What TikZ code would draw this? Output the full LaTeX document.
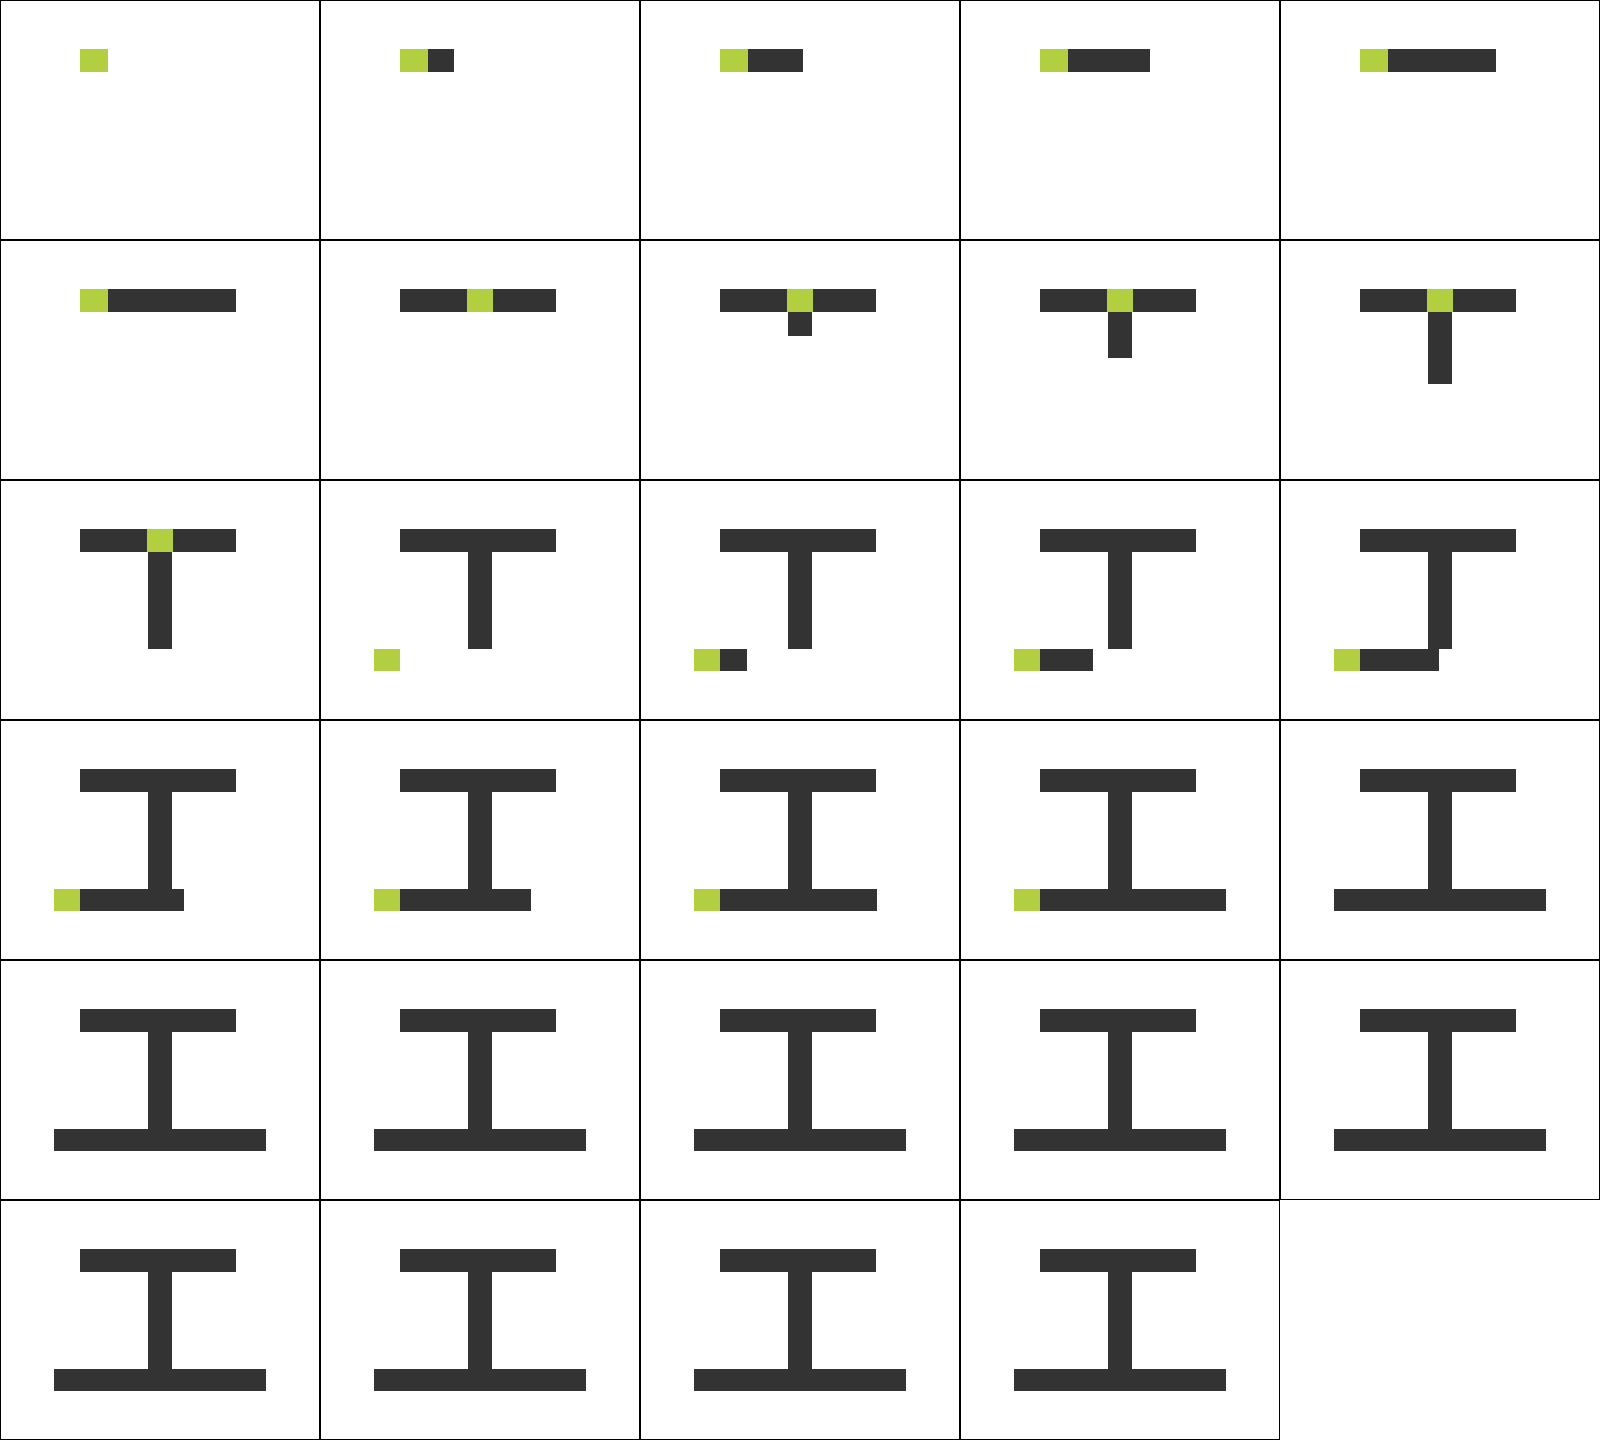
\documentclass[tikz,border=0pt]{standalone}
\definecolor{ink}{HTML}{333333}
\definecolor{hl}{RGB}{178,207,66}
\tikzset{
  cellframe/.style={draw=black,line width=0.55pt},
  inkstroke/.style={fill=ink},
  hlbox/.style={fill=hl}
}
% #1 col, #2 row, #3 top-bar end, #4 stem end, #5 bottom-bar end, #6 highlight (0 none,1,2,3)
\newcommand\drawframe[6]{%
  \begin{scope}[shift={(320*#1,240*#2)}]
    \draw[cellframe] (0.5,0.5) rectangle (319.5,239.5);
    \ifdim #3pt>80pt \fill[inkstroke] (80,49) rectangle (#3,72);\fi
    \ifdim #4pt>72pt \fill[inkstroke] (148,72) rectangle (172,#4);\fi
    \ifdim #5pt>54pt \fill[inkstroke] (54,169) rectangle (#5,191);\fi
    \ifcase#6\relax
    \or \fill[hlbox] (80,49) rectangle (108,72);
    \or \fill[hlbox] (147,49) rectangle (173,72);
    \or \fill[hlbox] (54,169) rectangle (80,191);
    \fi
  \end{scope}}
\begin{document}
\begin{tikzpicture}[x=0.5pt,y=-0.5pt]
\fill[white] (0,0) rectangle (1600,1440);
\useasboundingbox (0,0) rectangle (1600,1440);
\drawframe{0}{0}{80}{72}{54}{1}
\drawframe{1}{0}{134}{72}{54}{1}
\drawframe{2}{0}{163}{72}{54}{1}
\drawframe{3}{0}{190}{72}{54}{1}
\drawframe{4}{0}{216}{72}{54}{1}
\drawframe{0}{1}{236}{72}{54}{1}
\drawframe{1}{1}{236}{72}{54}{2}
\drawframe{2}{1}{236}{96}{54}{2}
\drawframe{3}{1}{236}{118}{54}{2}
\drawframe{4}{1}{236}{144}{54}{2}
\drawframe{0}{2}{236}{169}{54}{2}
\drawframe{1}{2}{236}{169}{54}{3}
\drawframe{2}{2}{236}{169}{107}{3}
\drawframe{3}{2}{236}{169}{133}{3}
\drawframe{4}{2}{236}{169}{159}{3}
\drawframe{0}{3}{236}{169}{184}{3}
\drawframe{1}{3}{236}{169}{211}{3}
\drawframe{2}{3}{236}{169}{237}{3}
\drawframe{3}{3}{236}{169}{266}{3}
\drawframe{4}{3}{236}{169}{266}{0}
\drawframe{0}{4}{236}{169}{266}{0}
\drawframe{1}{4}{236}{169}{266}{0}
\drawframe{2}{4}{236}{169}{266}{0}
\drawframe{3}{4}{236}{169}{266}{0}
\drawframe{4}{4}{236}{169}{266}{0}
\drawframe{0}{5}{236}{169}{266}{0}
\drawframe{1}{5}{236}{169}{266}{0}
\drawframe{2}{5}{236}{169}{266}{0}
\drawframe{3}{5}{236}{169}{266}{0}
\end{tikzpicture}
\end{document}
